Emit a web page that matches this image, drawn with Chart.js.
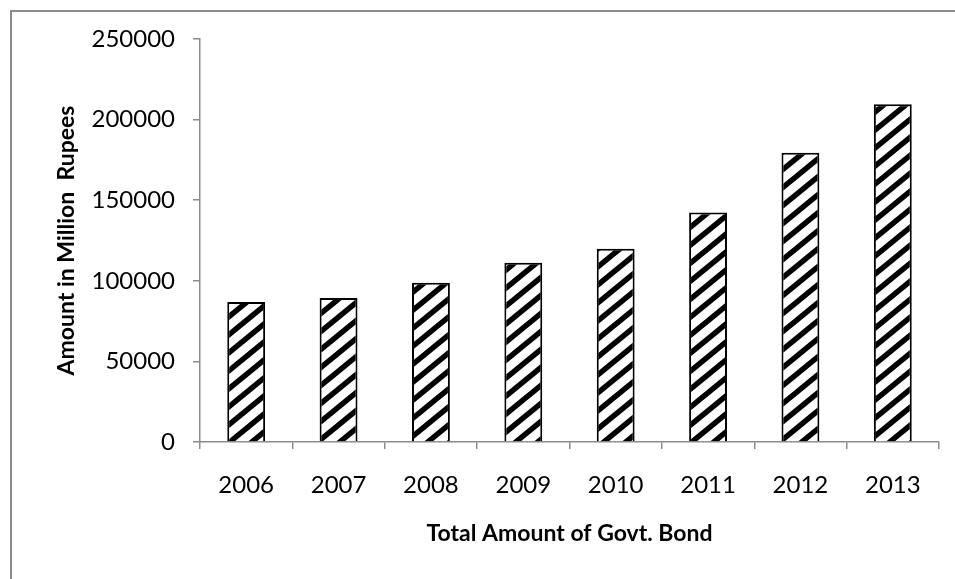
<!DOCTYPE html>
<html>
<head>
<meta charset="utf-8">
<script src="https://cdn.jsdelivr.net/npm/chart.js@4.4.1/dist/chart.umd.min.js"></script>
<style>
  html, body { margin: 0; padding: 0; background: #fff; }
</style>
</head>
<body>
<canvas id="bondChart" width="955" height="579"></canvas>
<script>
const years = ['2006', '2007', '2008', '2009', '2010', '2011', '2012', '2013'];
const bondAmounts = [86800, 89300, 98800, 111200, 119900, 142300, 179400, 209500];
const yMin = 0;
const yMax = 250000;
const yStep = 50000;

const axisGray = '#8c8c8c';

// diagonal hatch used to fill the bars
function makeHatch(){
    const w = 22, h = 18;
    const tile = document.createElement('canvas');
    tile.width = w;
    tile.height = h;
    const c = tile.getContext('2d');
    c.fillStyle = '#fff';
    c.fillRect(0, 0, w, h);
    c.strokeStyle = '#000';
    c.lineWidth = 5.5;
    // lines run past the tile so the stripes join up across tile edges
    for(let k = -1; k <= 1; k++){
        c.beginPath();
        c.moveTo(k * w - w, 2 * h);
        c.lineTo(k * w + 2 * w, -h);
        c.stroke();
    }
    return document.getElementById('bondChart').getContext('2d').createPattern(tile, 'repeat');
}

// grey frame on the left and top edges
const framePlugin = {
    id: 'frame',
    afterDraw(chart){
        const ctx = chart.ctx;
        ctx.save();
        ctx.strokeStyle = axisGray;
        ctx.lineWidth = 2;
        ctx.beginPath();
        ctx.moveTo(11, chart.height);
        ctx.lineTo(11, 11);
        ctx.lineTo(chart.width, 11);
        ctx.stroke();
        ctx.restore();
    }
};

new Chart(document.getElementById('bondChart'), {
    type: 'bar',
    data: {
        labels: years,
        datasets: [{
            data: bondAmounts,
            backgroundColor: makeHatch(),
            borderColor: '#000',
            borderWidth: 2,
            barPercentage: 0.41,
            categoryPercentage: 1
        }]
    },
    plugins: [framePlugin],
    options: {
        responsive: false,
        animation: false,
        devicePixelRatio: 1,
        layout: { padding: { top: 39, right: 16, left: 0, bottom: 0 } },
        plugins: {
            legend: { display: false },
            tooltip: { enabled: false }
        },
        scales: {
            x: {
                afterFit(scale){ scale.height = 137; },
                grid: {
                    drawOnChartArea: false,
                    color: axisGray,
                    lineWidth: 1.5,
                    tickLength: 7,
                    offset: true
                },
                border: { color: axisGray, width: 1.5 },
                ticks: {
                    color: '#000',
                    padding: 22,
                    font: { family: 'Lato', size: 24 }
                },
                title: {
                    display: true,
                    text: 'Total Amount of Govt. Bond',
                    color: '#000',
                    font: { family: 'Lato', size: 23, weight: 'bold' },
                    padding: { top: 0, bottom: 32 }
                }
            },
            y: {
                min: yMin,
                max: yMax,
                afterFit(scale){ scale.width = 200; },
                grid: {
                    drawOnChartArea: false,
                    color: axisGray,
                    lineWidth: 1.5,
                    tickLength: 7
                },
                border: { color: axisGray, width: 1.5 },
                ticks: {
                    stepSize: yStep,
                    color: '#000',
                    padding: 18,
                    font: { family: 'Lato', size: 24 },
                    callback: (v) => String(v)
                },
                title: {
                    display: true,
                    text: 'Amount in Million  Rupees',
                    color: '#000',
                    font: { family: 'Lato', size: 23, weight: 'bold' },
                    padding: { top: 53, bottom: 0 }
                }
            }
        }
    }
});
</script>
</body>
</html>
